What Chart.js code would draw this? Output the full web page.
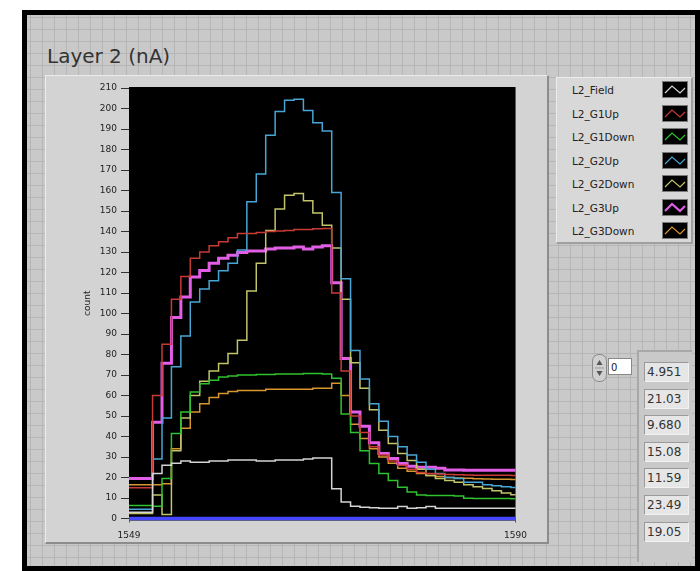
<!DOCTYPE html>
<html>
<head>
<meta charset="utf-8">
<script src="https://cdn.jsdelivr.net/npm/chart.js@4.4.1/dist/chart.umd.min.js"></script>
<style>
  html,body{margin:0;padding:0;background:#fff;}
  body{width:700px;height:571px;position:relative;overflow:hidden;font-family:"DejaVu Sans",sans-serif;}
  #frame{position:absolute;left:22px;top:10px;width:668px;height:551px;border:5px solid #000;
    background-color:#c9c9c9;
    background-image:
      repeating-linear-gradient(to right, #b6b6b6 0 1px, transparent 1px 12px),
      repeating-linear-gradient(to bottom, #b6b6b6 0 1px, transparent 1px 12px);
    background-position:3px 2px;}
  #title{position:absolute;left:47px;top:44px;font-size:20px;color:#333;white-space:nowrap;}
  #panel{position:absolute;left:45px;top:75px;width:501px;height:466px;background:#d3d3d3;
    border-top:1px solid #ececec;border-left:1px solid #ececec;border-right:2px solid #8c8c8c;border-bottom:2px solid #8c8c8c;}
  #wrap{position:absolute;left:60px;top:78px;width:475px;height:470px;}
  #legend{position:absolute;left:556px;top:77px;width:134px;height:164px;background:#d8d8d8;
    border-right:2px solid #a0a0a0;border-bottom:2px solid #a0a0a0;border-top:1px solid #ececec;border-left:1px solid #ececec;}
  .lrow{position:absolute;left:0;width:134px;height:20px;}
  .lrow span{position:absolute;left:15px;top:3px;font-size:10.5px;color:#222;white-space:nowrap;}
  .lrow svg{position:absolute;left:105px;top:0;}
  #spin{position:absolute;left:592px;top:354px;width:13px;height:26px;border-radius:7px;background:#d0d0d0;border:1px solid #8a8a8a;}
  #idx{position:absolute;left:608px;top:358px;width:24px;height:17px;background:#fff;border:1px solid #888;font-size:10px;line-height:17px;padding-left:2px;box-sizing:border-box;color:#222;}
  #arr{position:absolute;left:637px;top:350px;width:55px;height:212px;background:#c9c9c9;
    border-top:2px solid #a8a8a8;border-left:2px solid #a8a8a8;box-sizing:border-box;}
  .cell{position:absolute;left:644px;width:45px;height:20px;background:#e6e6e6;border:1px solid #9a9a9a;border-right-color:#f2f2f2;border-bottom-color:#f2f2f2;
    box-sizing:border-box;font-size:12px;line-height:19px;padding-left:2px;color:#333;}
</style>
</head>
<body>
<div id="frame"></div>
<div id="title">Layer 2 (nA)</div>
<div id="panel"></div>
<div id="wrap"><canvas id="c" width="475" height="470"></canvas></div>
<div id="legend"></div>
<div id="spin"><svg width="13" height="26"><polygon points="6.5,5 3.5,10 9.5,10" fill="#555"/><line x1="2" y1="13" x2="11" y2="13" stroke="#999"/><polygon points="6.5,21 3.5,16 9.5,16" fill="#555"/></svg></div>
<div id="idx">0</div>
<div id="arr"></div>
<script>
// ---- data ----
const xValues = [1549,1550,1551,1552,1553,1554,1555,1556,1557,1558,1559,1560,1561,1562,1563,1564,1565,1566,1567,1568,1569,1570,1571,1572,1573,1574,1575,1576,1577,1578,1579,1580,1581,1582,1583,1584,1585,1586,1587,1588,1589,1590];
const xTicks = [1549, 1590];
const seriesNames = ["L2_Field","L2_G1Up","L2_G1Down","L2_G2Up","L2_G2Down","L2_G3Up","L2_G3Down"];
const L2_Field  = [3,3,3,22,26,27,28,27.5,27.5,28,28,28.5,28.5,28.5,28,28,28.5,28.5,28.5,29,29.5,29.5,14.5,8,6,5.5,5.2,5,5,5.8,5,5.2,5.8,5,5,5,5,5,5,5,5,4.951];
const L2_G1Up   = [15,15,15,60,85,107,118,127,130,133,135,137,139,139,139.5,140,140.3,140.5,141,141,141.4,141.5,110,72,50,42,35,31,28,26,24,22.5,22,21.7,21.5,21.3,21.2,21.1,21.1,21.05,21.05,21.03];
const L2_G1Down = [6.3,6.3,6.3,6,19.5,41.5,52,61.7,65.7,67.4,69,69.5,70,70,70.3,70.3,70.5,70.5,70.5,70.7,70.7,70.5,68.4,51,42,33,26.8,22,18.5,15.3,12.9,11.5,11.2,11.2,11.2,11,9.9,9.8,9.7,9.7,9.7,9.68];
const L2_G2Up   = [4.5,4.5,4.5,29,49,74,89,105.6,112,116,120.8,124.5,131,154.5,168,187,198.5,204,204.5,199,193,189,159,117,82,68,56,47.5,40,35,31,27.5,24,22,20,19.5,17.7,17.7,16.5,16,15.5,15.08];
const L2_G2Down = [2.5,2.5,2.5,11.5,2,33,49,60,67,72,75.6,80.5,87,111,124.5,140.5,151,157.7,158.5,155,149,143,132,107,76,63.5,53,43,36.6,31.7,28.3,24,21,19.5,18.5,17.7,16.5,15.5,14.6,13.5,12.5,11.59];
const L2_G3Up   = [19.5,19.5,19.5,47,75.7,98,108,117.8,121,124.5,127,128.4,129.7,130.5,130.5,131.5,132,132,132.5,131.5,132.5,133,115,78,52,45,37,31.7,29.3,26.8,25.5,25,25,24.5,23.6,23.6,23.5,23.5,23.5,23.5,23.5,23.49];
const L2_G3Down = [16.5,16.5,16.5,16.5,17,34,44,52,56,59,61,62,62.5,62.5,62.5,63,63,63,63,63,63.5,63.5,66,60,46,39,34,30,27,24.5,23,22,21,20.5,20,19.8,19.6,19.4,19.3,19.2,19.1,19.05];
const baseline  = [0, 0];
const baselineX = [1549, 1590];
const currentValues = ["4.951","21.03","9.680","15.08","11.59","23.49","19.05"];
const yMin = 0, yMax = 210, yStep = 10;

const seriesData = [L2_Field, L2_G1Up, L2_G1Down, L2_G2Up, L2_G2Down, L2_G3Up, L2_G3Down];
const colors = ["#d4d4d4","#c83a36","#2fc22f","#48a6d6","#c2c46a","#e25ee6","#d8962e"];
const widths = [1.5,1.5,1.5,1.5,1.5,3,1.5];

// legend
const leg = document.getElementById('legend');
seriesNames.forEach((n,i)=>{
  const r = document.createElement('div');
  r.className='lrow'; r.style.top = (3 + i*23.5)+'px';
  r.innerHTML = '<span>'+n+'</span><svg width="26" height="17"><rect x="0.5" y="0.5" width="25" height="16" fill="#000" stroke="#7a7a7a"/>'+
    '<polyline points="3,12 10,5 18,12 23,7" fill="none" stroke="'+colors[i]+'" stroke-width="'+(i===5?2.2:1.2)+'"/></svg>';
  leg.appendChild(r);
});
// value array
currentValues.forEach((v,i)=>{
  const d = document.createElement('div');
  d.className='cell'; d.style.top=(362 + i*26.6)+'px'; d.textContent=v;
  document.body.appendChild(d);
});

const bgPlugin = {
  id:'bg',
  beforeDraw(chart){
    const a = chart.chartArea, ctx = chart.ctx;
    ctx.save(); ctx.fillStyle='#000';
    ctx.fillRect(a.left, a.top-1, a.right-a.left, a.bottom-a.top+3);
    ctx.restore();
  }
};

const datasets = seriesData.map((arr,i)=>({
  label: seriesNames[i],
  data: xValues.map((x,k)=>({x:x, y:arr[k]})),
  borderColor: colors[i], borderWidth: widths[i],
  stepped: 'middle', pointRadius: 0, fill:false, clip: 2
}));
datasets.push({
  label:'base', data: baselineX.map((x,k)=>({x:x,y:baseline[k]})),
  borderColor:'#4646ff', borderWidth:3.5, pointRadius:0, clip:false
});

new Chart(document.getElementById('c'), {
  type:'line',
  data:{ datasets: datasets },
  options:{
    responsive:false, animation:false, events:[],
    layout:{padding:{top:10, right:19, left:0, bottom:0}},
    plugins:{legend:{display:false}, tooltip:{enabled:false}},
    scales:{
      x:{
        type:'linear', min:xValues[0], max:xValues[xValues.length-1],
        afterBuildTicks(s){ s.ticks = xTicks.map(v=>({value:v})); },
        afterFit(s){ s.height = 29.5; },
        ticks:{font:{family:'DejaVu Sans', size:9}, color:'#222', padding:8, maxRotation:0, autoSkip:false,
               callback:(v)=>String(v)},
        grid:{drawOnChartArea:false, drawTicks:true, tickLength:4, color:'#555'},
        border:{display:false}
      },
      y:{
        min:yMin, max:yMax,
        afterFit(s){ s.width = 69; },
        ticks:{stepSize:yStep, font:{family:'DejaVu Sans', size:9}, color:'#222', padding:4},
        grid:{drawOnChartArea:false, drawTicks:true, tickLength:8, color:'#333'},
        border:{display:false},
        title:{display:true, text:'count', font:{family:'DejaVu Sans', size:9}, color:'#222', padding:{top:22,bottom:0}}
      }
    }
  },
  plugins:[bgPlugin]
});
</script>
</body>
</html>
